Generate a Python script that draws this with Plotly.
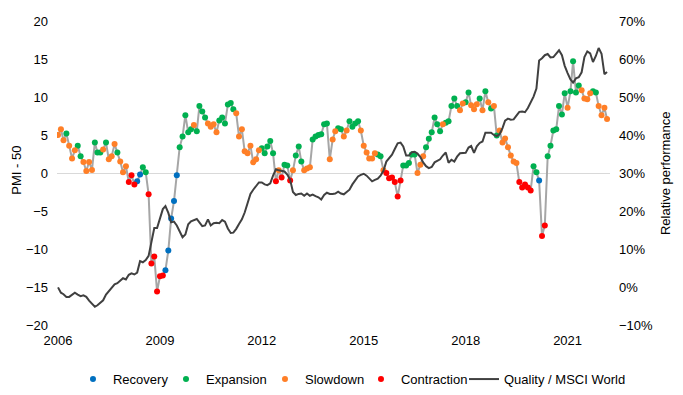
import plotly.graph_objects as go
import pandas as pd

# PMI minus 50 (monthly, Jan 2006 - Mar 2022)
pmi = [
    5.0, 5.75, 4.3, 5.2, 3.6, 1.9, 3.0, 3.6, 2.2, 1.45,
    0.26, 1.45, 0.4, 4.0, 2.7, 2.7, 3.1, 4.0, 1.8, 2.2,
    3.8, 2.7, 1.5, 0.1, 0.9, -1.2, -0.3, -1.5, -1.1, -0.2,
    0.75, 0.1, -2.8, -11.9, -11.0, -15.6, -13.6, -13.5, -12.8, -10.2,
    -6.0, -3.7, -0.3, 3.4, 4.8, 7.6, 5.35, 5.75, 6.3, 5.5,
    8.8, 8.1, 7.3, 6.5, 6.1, 6.4, 5.35, 6.9, 7.3, 6.5,
    9.0, 9.2, 8.4, 7.85, 4.8, 5.75, 2.85, 2.6, 3.6, 1.4,
    1.8, 3.0, 3.25, 2.6, 3.5, 4.2, 2.6, -1.1, 0.35, -0.6,
    1.1, 1.0, -1.0, 0.35, 2.3, 3.5, 1.5, 0.35, 0.6, 0.75,
    4.4, 4.8, 5.0, 5.1, 6.4, 6.5, 1.8, 4.4, 5.5, 5.9,
    5.75, 4.8, 5.6, 6.8, 6.1, 6.5, 6.8, 5.6, 3.6, 2.7,
    1.9, 1.9, 2.6, 2.45, 2.2, 0.35, 0.0, -0.7, -0.6, -1.2,
    -3.1, -1.0, 1.0, 1.0, 1.3, 2.45, 2.45, 0.0, 1.1, 2.2,
    3.4, 4.5, 5.35, 7.3, 6.4, 5.5, 6.4, 6.6, 6.8, 8.8,
    9.8, 8.8, 8.25, 9.15, 9.3, 10.6, 8.9, 8.4, 9.05, 9.8,
    8.25, 10.75, 9.3, 8.5, 8.8, 4.95, 5.6, 4.0, 4.55, 3.4,
    2.3, 1.5, 1.3, -1.2, -1.9, -1.5, -1.9, -2.3, 0.9, 0.1,
    -1.0, -8.3, -6.9, 2.2, 3.6, 5.6, 5.75, 8.8, 7.7, 10.5,
    8.6, 10.75, 14.7, 10.6, 11.5, 10.9, 9.8, 9.7, 10.5, 10.75,
    10.6, 8.8, 7.6, 8.6, 7.1,
]

# Cycle phase per month: R=Recovery, E=Expansion, S=Slowdown, C=Contraction
phase = list(
    "SSSESSSEES"
    "SSSEEESESS"
    "SESSSCCCRR"
    "EECCCCCCRR"
    "RRREEEEESE"
    "EEESSSSEEE"
    "EEESSSSSSS"
    "SSEEEEECSC"
    "EECSEEESSS"
    "EEEEEESSSE"
    "ESSEEEESSS"
    "SSSEESCCCC"
    "CCEEEEESSS"
    "EEEEEESEEE"
    "EESSEESSSE"
    "SESESESSSS"
    "SSSCCCCCEE"
    "RCCEEEEEEE"
    "SEEEESSSSE"
    "ESSSS"
)

# Quality / MSCI World relative performance (%)
rel = [
    -0.1, -1.5, -1.9, -2.6, -2.6, -2.0, -1.5, -2.0, -2.4, -2.2,
    -2.6, -3.6, -4.4, -5.2, -4.8, -4.0, -3.5, -2.0, -1.2, -0.3,
    0.7, 1.0, 1.8, 2.3, 2.0, 3.2, 3.6, 3.3, 3.8, 6.8,
    6.5, 7.1, 8.2, 11.5, 15.5, 15.5, 17.8, 20.5, 21.3, 19.5,
    17.0, 17.2, 16.2, 14.5, 13.1, 13.8, 16.5, 17.3, 17.6, 17.9,
    17.0, 16.0, 16.2, 17.8, 16.2, 16.8, 16.9, 16.8, 17.6, 17.2,
    15.4, 14.2, 14.3, 15.3, 16.6, 17.8, 19.6, 22.0, 24.5, 25.6,
    26.5, 27.5, 27.5, 27.0, 26.8, 27.3, 29.3, 31.0, 30.7, 30.6,
    30.4, 29.6, 28.2, 25.0, 24.2, 24.5, 24.6, 24.0, 24.6, 24.0,
    24.3, 23.9, 23.6, 23.0, 24.2, 24.8, 24.5, 24.5, 24.6, 25.1,
    24.6, 24.4, 24.9, 25.6, 27.0, 28.0, 29.1, 29.5, 29.8, 29.3,
    28.7, 27.8, 28.2, 28.5, 29.3, 30.6, 33.0, 34.0, 34.8, 36.3,
    37.8, 38.0, 37.0, 34.6, 34.6, 35.5, 35.6, 35.1, 34.2, 32.8,
    31.8, 31.3, 31.6, 32.8, 33.2, 33.6, 34.6, 35.4, 32.7, 33.5,
    33.0, 34.3, 35.2, 35.2, 35.3, 36.7, 37.1, 35.3, 37.0, 37.9,
    38.3, 40.6, 40.7, 40.6, 40.0, 39.7, 40.2, 41.8, 43.8, 44.3,
    44.0, 44.1, 45.1, 46.1, 46.2, 46.0, 47.1, 48.5, 50.1, 52.2,
    59.6, 60.2, 61.0, 61.3, 60.4, 60.5, 61.4, 62.3, 61.0, 58.2,
    56.3, 54.6, 53.8, 54.9, 55.2, 56.5, 60.5, 62.0, 61.5, 59.2,
    60.8, 62.9, 61.4, 56.0, 56.6,
]

tick_years = [2006, 2009, 2012, 2015, 2018, 2021]
phase_names = [("Recovery", "R", "#0070C0"), ("Expansion", "E", "#00B050"),
               ("Slowdown", "S", "#FF7F27"), ("Contraction", "C", "#FF0000")]

months = pd.date_range("2006-01-01", periods=len(pmi), freq="MS")

FONT = "Liberation Sans, Arial, sans-serif"
legend_ids = ["legend", "legend2", "legend3", "legend4", "legend5"]
legend_x = [0.0289, 0.1971, 0.3761, 0.5497, 0.7360]

fig = go.Figure()
fig.add_trace(go.Scatter(x=months, y=pmi, mode="lines",
                         line=dict(color="#A6A6A6", width=2),
                         showlegend=False, hoverinfo="skip"))
for i, (name, code, color) in enumerate(phase_names):
    ys = [v if p == code else None for v, p in zip(pmi, phase)]
    fig.add_trace(go.Scatter(x=months, y=ys, mode="markers", name=name,
                             marker=dict(color=color, size=6),
                             legend=legend_ids[i]))
fig.add_trace(go.Scatter(x=months, y=rel, mode="lines", name="Quality / MSCI World",
                         line=dict(color="#404040", width=2), yaxis="y2",
                         legend=legend_ids[4]))

legend_layout = {
    lid: dict(orientation="h", x=lx, xanchor="left", y=-0.178, yanchor="middle",
              font=dict(size=13), itemwidth=30, bgcolor="rgba(0,0,0,0)")
    for lid, lx in zip(legend_ids, legend_x)
}

fig.update_layout(
    template="none",
    width=675, height=387,
    margin=dict(l=49, r=73, t=13, b=70, autoexpand=False),
    paper_bgcolor="white", plot_bgcolor="white",
    font=dict(family=FONT, size=13, color="#000000"),
    xaxis=dict(type="date", range=["2005-12-21", "2022-04-02"],
               tickvals=[f"{y}-01-01" for y in tick_years],
               ticktext=[str(y) for y in tick_years],
               showgrid=False, zeroline=False, showline=False, ticks="",
               ticklabelstandoff=6, automargin=False),
    yaxis=dict(range=[-20, 20], dtick=5, showgrid=False, showline=False,
               zeroline=True, zerolinecolor="#D9D9D9", zerolinewidth=1,
               ticks="", ticklabelstandoff=8, automargin=False),
    yaxis2=dict(range=[-10, 70], dtick=10, ticksuffix="%", overlaying="y",
                side="right", showgrid=False, zeroline=False, showline=False,
                ticks="", ticklabelstandoff=8, automargin=False),
    showlegend=True,
    annotations=[
        dict(text="PMI - 50", xref="paper", yref="paper", x=-0.0729, y=0.51,
             xanchor="center", yanchor="middle", textangle=-90,
             showarrow=False, font=dict(size=13)),
        dict(text="Relative performance", xref="paper", yref="paper", x=1.0995, y=0.5,
             xanchor="center", yanchor="middle", textangle=-90,
             showarrow=False, font=dict(size=13)),
    ],
    **legend_layout,
)

fig.write_html("out.html")
